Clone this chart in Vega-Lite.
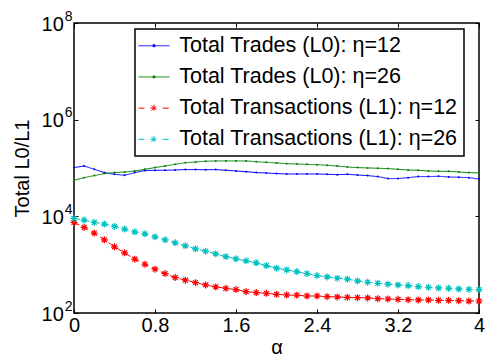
{
  "$schema": "https://vega.github.io/schema/vega-lite/v6.json",
  "width": 405,
  "height": 290,
  "autosize": "none",
  "padding": {"left": 74, "top": 23, "right": 13, "bottom": 43},
  "config": {
    "font": "Liberation Sans",
    "background": "white",
    "view": {"stroke": "black", "strokeWidth": 1.5},
    "axis": {"labelColor": "black", "tickColor": "black", "titleColor": "black", "grid": false, "domain": false}
  },
  "data": {
    "values": [
      {"alpha": 0.0, "trades_12": 102000, "trades_26": 55700, "trans_12": 7470, "trans_26": 9040},
      {"alpha": 0.1, "trades_12": 110000, "trades_26": 63200, "trans_12": 5900, "trans_26": 8370},
      {"alpha": 0.2, "trades_12": 94000, "trades_26": 69600, "trans_12": 4500, "trans_26": 7470},
      {"alpha": 0.3, "trades_12": 80300, "trades_26": 76600, "trans_12": 3270, "trans_26": 6920},
      {"alpha": 0.4, "trades_12": 74100, "trades_26": 80300, "trans_12": 2340, "trans_26": 6170},
      {"alpha": 0.5, "trades_12": 70700, "trades_26": 82700, "trans_12": 1760, "trans_26": 5440},
      {"alpha": 0.6, "trades_12": 80300, "trades_26": 86700, "trans_12": 1300, "trans_26": 4790},
      {"alpha": 0.7, "trades_12": 88300, "trades_26": 94000, "trans_12": 1020, "trans_26": 4350},
      {"alpha": 0.8, "trades_12": 89700, "trades_26": 102000, "trans_12": 807, "trans_26": 3770},
      {"alpha": 0.9, "trades_12": 89700, "trades_26": 110000, "trans_12": 653, "trans_26": 3270},
      {"alpha": 1.0, "trades_12": 91000, "trades_26": 119000, "trans_12": 540, "trans_26": 2830},
      {"alpha": 1.1, "trades_12": 92700, "trades_26": 129000, "trans_12": 477, "trans_26": 2455},
      {"alpha": 1.2, "trades_12": 92700, "trades_26": 133000, "trans_12": 425, "trans_26": 2130},
      {"alpha": 1.3, "trades_12": 92000, "trades_26": 138000, "trans_12": 381, "trans_26": 1905},
      {"alpha": 1.4, "trades_12": 92700, "trades_26": 140000, "trans_12": 347, "trans_26": 1675},
      {"alpha": 1.5, "trades_12": 89700, "trades_26": 140000, "trans_12": 325, "trans_26": 1470},
      {"alpha": 1.6, "trades_12": 86700, "trades_26": 140000, "trans_12": 305, "trans_26": 1318},
      {"alpha": 1.7, "trades_12": 84100, "trades_26": 140000, "trans_12": 277, "trans_26": 1200},
      {"alpha": 1.8, "trades_12": 80300, "trades_26": 135000, "trans_12": 264, "trans_26": 1090},
      {"alpha": 1.9, "trades_12": 78900, "trades_26": 131000, "trans_12": 256, "trans_26": 957},
      {"alpha": 2.0, "trades_12": 76600, "trades_26": 127000, "trans_12": 244, "trans_26": 845},
      {"alpha": 2.1, "trades_12": 75300, "trades_26": 123000, "trans_12": 236, "trans_26": 780},
      {"alpha": 2.2, "trades_12": 75300, "trades_26": 121000, "trans_12": 233, "trans_26": 719},
      {"alpha": 2.3, "trades_12": 75300, "trades_26": 119000, "trans_12": 225, "trans_26": 653},
      {"alpha": 2.4, "trades_12": 75300, "trades_26": 117000, "trans_12": 225, "trans_26": 594},
      {"alpha": 2.5, "trades_12": 74100, "trades_26": 114000, "trans_12": 218, "trans_26": 558},
      {"alpha": 2.6, "trades_12": 72800, "trades_26": 110000, "trans_12": 215, "trans_26": 525},
      {"alpha": 2.7, "trades_12": 74100, "trades_26": 105000, "trans_12": 211, "trans_26": 500},
      {"alpha": 2.8, "trades_12": 71600, "trades_26": 102000, "trans_12": 208, "trans_26": 461},
      {"alpha": 2.9, "trades_12": 69600, "trades_26": 100300, "trans_12": 205, "trans_26": 433},
      {"alpha": 3.0, "trades_12": 66400, "trades_26": 98700, "trans_12": 198, "trans_26": 413},
      {"alpha": 3.1, "trades_12": 60400, "trades_26": 97200, "trans_12": 195, "trans_26": 394},
      {"alpha": 3.2, "trades_12": 60400, "trades_26": 94000, "trans_12": 192, "trans_26": 381},
      {"alpha": 3.3, "trades_12": 63200, "trades_26": 91000, "trans_12": 189, "trans_26": 369},
      {"alpha": 3.4, "trades_12": 66400, "trades_26": 89700, "trans_12": 186, "trans_26": 352},
      {"alpha": 3.5, "trades_12": 66400, "trades_26": 86700, "trans_12": 186, "trans_26": 341},
      {"alpha": 3.6, "trades_12": 67400, "trades_26": 85500, "trans_12": 183, "trans_26": 330},
      {"alpha": 3.7, "trades_12": 65300, "trades_26": 85500, "trans_12": 183, "trans_26": 325},
      {"alpha": 3.8, "trades_12": 64300, "trades_26": 82700, "trans_12": 180, "trans_26": 315},
      {"alpha": 3.9, "trades_12": 63200, "trades_26": 80300, "trans_12": 177, "trans_26": 310},
      {"alpha": 4.0, "trades_12": 59300, "trades_26": 78900, "trans_12": 177, "trans_26": 305}
    ]
  },
  "transform": [
    {"fold": ["trades_12", "trades_26", "trans_12", "trans_26"], "as": ["series", "value"]}
  ],
  "layer": [
    {
      "mark": {"type": "line", "strokeWidth": 1},
      "encoding": {
        "x": {
          "field": "alpha", "type": "quantitative",
          "scale": {"domain": [0, 4], "nice": false},
          "axis": {
            "orient": "bottom", "values": [0, 0.8, 1.6, 2.4, 3.2, 4], "format": "~g",
            "labelFlush": false, "tickSize": -4, "labelPadding": 6, "labelFontSize": 20,
            "title": "α", "titleFontSize": 20, "titleFontWeight": "normal", "titlePadding": 2
          }
        },
        "y": {
          "field": "value", "type": "quantitative",
          "scale": {"type": "log", "domain": [100, 100000000], "nice": false},
          "axis": {
            "orient": "left", "values": [100, 10000, 1000000, 100000000], "labelExpr": "'10'",
            "tickSize": -4, "labelPadding": 14.7, "labelFontSize": 20, "labelOffset": 1,
            "title": "Total L0/L1", "titleFontSize": 20, "titleFontWeight": "normal", "titlePadding": 9
          }
        },
        "color": {
          "field": "series", "type": "nominal",
          "scale": {
            "domain": ["trades_12", "trades_26", "trans_12", "trans_26"],
            "range": ["#0000ff", "#008000", "#ff0000", "#00bfbf"]
          },
          "legend": {
            "title": null, "orient": "none", "legendX": 61, "legendY": 6,
            "strokeColor": "black", "fillColor": "white",
            "padding": 6, "rowPadding": 8.2,
            "labelFontSize": 21.5, "labelColor": "black", "labelLimit": 400,
            "labelOffset": 14.5, "symbolOffset": 2.2, "symbolSize": 256, "symbolStrokeWidth": 1,
            "symbolType": "M-1.94,0H1.94",
            "labelExpr": "(datum.value == 'trades_12' ? 'Total Trades (L0): η=12' : datum.value == 'trades_26' ? 'Total Trades (L0): η=26' : datum.value == 'trans_12' ? 'Total Transactions (L1): η=12' : 'Total Transactions (L1): η=26') + '\u00a0\u00a0'",
            "encode": {
              "legend": {"update": {"strokeWidth": {"value": 1.5}}},
              "symbols": {
                "update": {
                  "shape": {"signal": "indexof(datum.value, 'trans') >= 0 ? 'M-1.94,0H-1.1M1.1,0H1.94M-0.45,0H0.45M0,-0.45V0.45M-0.32,-0.32L0.32,0.32M-0.32,0.32L0.32,-0.32' : 'M-1.94,0H1.94M-0.12,-0.12H0.12V0.12H-0.12Z'"},
                  "strokeDash": {"value": [1, 0]},
                  "strokeWidth": {"value": 1}
                }
              }
            }
          }
        },
        "strokeDash": {
          "field": "series", "type": "nominal",
          "scale": {
            "domain": ["trades_12", "trades_26", "trans_12", "trans_26"],
            "range": [[1, 0], [1, 0], [6, 4], [6, 4]]
          },
          "legend": null
        }
      }
    },
    {
      "transform": [{"filter": "indexof(datum.series, 'trades') >= 0"}],
      "mark": {"type": "point", "shape": "circle", "filled": true, "size": 4, "opacity": 1},
      "encoding": {
        "x": {
          "field": "alpha", "type": "quantitative",
          "axis": {"orient": "top", "values": [0, 0.8, 1.6, 2.4, 3.2, 4], "labels": false, "tickSize": -4, "title": null}
        },
        "y": {
          "field": "value", "type": "quantitative",
          "axis": {"orient": "right", "values": [100, 10000, 1000000, 100000000], "labels": false, "tickSize": -4, "title": null}
        },
        "color": {"field": "series", "type": "nominal", "legend": null}
      }
    },
    {
      "transform": [{"filter": "indexof(datum.series, 'trans') >= 0"}],
      "mark": {
        "type": "point", "filled": false, "size": 49, "strokeWidth": 1.2, "opacity": 1,
        "shape": "M-1,0H1M0,-1V1M-0.7,-0.7L0.7,0.7M-0.7,0.7L0.7,-0.7"
      },
      "encoding": {
        "x": {"field": "alpha", "type": "quantitative", "axis": null},
        "y": {
          "field": "value", "type": "quantitative",
          "axis": {
            "orient": "left", "values": [100, 10000, 1000000, 100000000],
            "labelExpr": "'' + round(log(datum.value) / LN10)",
            "ticks": false, "labelAlign": "left", "labelPadding": 9.7,
            "labelFontSize": 14, "labelOffset": -7, "title": null
          }
        },
        "color": {"field": "series", "type": "nominal", "legend": null}
      }
    }
  ],
  "resolve": {"axis": {"x": "independent", "y": "independent"}}
}
